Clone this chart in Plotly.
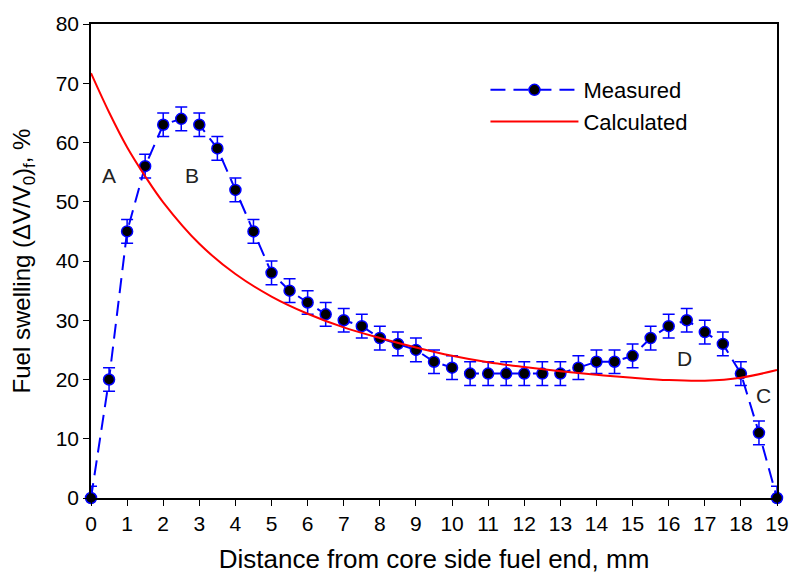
import plotly.graph_objects as go

# Measured swelling along the fuel column (distance in mm, swelling in %)
distance_mm = [0, 0.5, 1, 1.5, 2, 2.5, 3, 3.5, 4, 4.5, 5, 5.5, 6, 6.5, 7, 7.5, 8, 8.5,
               9, 9.5, 10, 10.5, 11, 11.5, 12, 12.5, 13, 13.5, 14, 14.5, 15, 15.5,
               16, 16.5, 17, 17.5, 18, 18.5, 19]
measured = [0, 20, 45, 56, 63, 64, 63, 59, 52, 45, 38, 35, 33, 31, 30, 29, 27, 26,
            25, 23, 22, 21, 21, 21, 21, 21, 21, 22, 23, 23, 24, 27,
            29, 30, 28, 26, 21, 11, 0]
err_plus = [2] * len(measured)
err_minus = [0] + [2] * (len(measured) - 2) + [0]

# Calculated swelling profile
calc_x = [0, 0.5, 1, 1.5, 2, 3, 4, 5, 6, 7, 8, 9, 10, 11, 12, 13, 14, 15, 16, 17, 18, 19]
calculated = [71.7, 65.1, 59.2, 54.3, 49.9, 42.9, 37.8, 34.0, 31.1, 28.8, 27.0, 25.4,
              24.0, 22.9, 22.1, 21.4, 20.8, 20.3, 19.9, 19.8, 20.3, 21.6]

# Region labels
region_labels = ["A", "B", "D", "C"]
region_x = [0.51, 2.81, 16.43, 18.62]
region_y = [54.4, 54.4, 23.5, 17.3]

FONT = "Arial, Liberation Sans, sans-serif"

fig = go.Figure()

fig.add_trace(go.Scatter(
    x=distance_mm, y=measured, name="Measured",
    mode="lines+markers",
    line=dict(color="#0000ff", width=2, dash="15px,8px"),
    marker=dict(size=11, color="black", line=dict(color="#0000ff", width=1.5)),
    error_y=dict(type="data", array=err_plus, arrayminus=err_minus, symmetric=False,
                 color="#0000ff", thickness=1.5, width=6),
    cliponaxis=False,
))

fig.add_trace(go.Scatter(
    x=calc_x, y=calculated, name="Calculated",
    mode="lines",
    line=dict(color="#ff0000", width=2, shape="spline", smoothing=1.0),
    cliponaxis=False,
))

for lab, lx, ly in zip(region_labels, region_x, region_y):
    fig.add_annotation(x=lx, y=ly, text=lab, showarrow=False,
                       font=dict(family=FONT, size=21, color="#222222"))

fig.update_layout(
    width=801, height=582,
    margin=dict(l=91, r=15, t=12, b=84),
    paper_bgcolor="white", plot_bgcolor="white",
    font=dict(family=FONT, size=21, color="black"),
    showlegend=True,
    legend=dict(x=0.575, y=0.905, xanchor="left", yanchor="top",
                bgcolor="rgba(0,0,0,0)", font=dict(family=FONT, size=22),
                itemwidth=88, tracegroupgap=0),
)

fig.update_xaxes(
    range=[0, 19], dtick=1, tick0=0,
    showline=True, linecolor="black", linewidth=1.5, mirror=True,
    ticks="outside", ticklen=6, tickwidth=1.2, tickcolor="black",
    showgrid=False, zeroline=False,
    tickfont=dict(family=FONT, size=21),
    title=dict(text="Distance from core side fuel end, mm",
               font=dict(family=FONT, size=26), standoff=16),
)
fig.update_yaxes(
    range=[0, 80], dtick=10, tick0=0,
    showline=True, linecolor="black", linewidth=1.5, mirror=True,
    ticks="outside", ticklen=6, tickwidth=1.2, tickcolor="black",
    showgrid=False, zeroline=False,
    tickfont=dict(family=FONT, size=21),
    title=dict(text="Fuel swelling (ΔV/V<sub>0</sub>)<sub>f</sub>, %",
               font=dict(family=FONT, size=24), standoff=18),
)

fig.write_html("out.html")
